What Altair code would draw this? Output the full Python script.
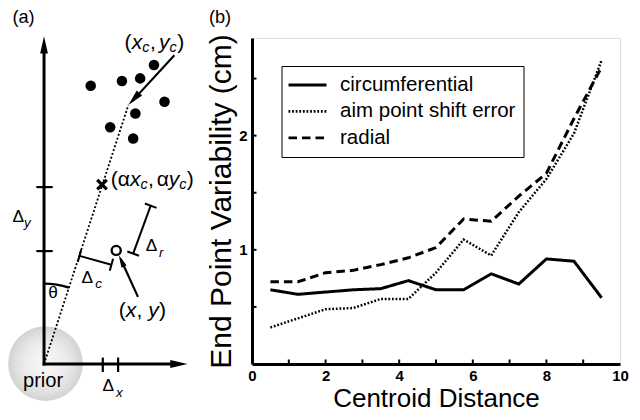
import altair as alt
import numpy as np
import pandas as pd

# ---------------- panel (b) data ----------------
centroid_distance = [0.5, 1.25, 2.0, 2.75, 3.5, 4.25, 5.0, 5.75, 6.5, 7.25, 8.0, 8.75, 9.5]
circumferential = [0.65, 0.61, 0.63, 0.65, 0.66, 0.73, 0.65, 0.65, 0.79, 0.70, 0.92, 0.90, 0.58]
aim_point_shift_error = [0.32, 0.40, 0.48, 0.49, 0.57, 0.57, 0.80, 1.09, 0.95, 1.33, 1.62, 2.02, 2.66]
radial = [0.72, 0.72, 0.80, 0.82, 0.87, 0.93, 1.02, 1.27, 1.25, 1.47, 1.67, 2.15, 2.60]
series_names = ["circumferential", "aim point shift error", "radial"]
series_widths = [3.0, 2.5, 3.0]
x_label_values = [0, 2, 4, 6, 8, 10]
y_label_values = [1, 2]
x_minor_ticks = [1, 2, 3, 4, 5, 6, 7, 8, 9]
y_minor_ticks = [0.5, 1.0, 1.5, 2.0, 2.5]

# ---------------- panel (a) schematic geometry (drawing units, origin = prior) ----------------
axis_tip = (149.7, 341.7)            # x-arrow tip x, y-arrow tip y
aim_end = (88.0, 270.0)              # (x_c, y_c)
scaled_aim = (60.5, 187.0)           # (alpha x_c, alpha y_c)
endpoint = (75.3, 118.4)             # (x, y)
dots_x = [48.7, 81.3, 100.3, 114.7, 125.7, 95.3, 69.0, 93.0]
dots_y = [290.0, 295.0, 297.7, 311.7, 273.4, 261.0, 246.7, 235.0]
y_axis_ticks = [117.7, 184.4]
x_axis_ticks = [61.3, 77.3]
dc_seg = [(37.0, 112.7), (70.3, 103.4)]
dr_seg = [(93.0, 115.0), (111.3, 165.0)]
arrow_xc_tail = (136.0, 321.7)
arrow_xy_tail = (98.0, 70.0)
arrow_xy_tip = (78.0, 113.4)

label_text = ["(a)", "(b)",
              "(", "x", "c", ",", "y", "c", ")",
              "(", "α", "x", "c", ",", "α", "y", "c", ")",
              "Δ", "y", "Δ", "c", "Δ", "r", "Δ", "x",
              "(", "x", ",", "y", ")",
              "θ", "prior"]
label_x = [-33, 172,
           84, 91.5, 102.5, 110.5, 120, 131, 139,
           69.7, 77, 89.7, 100.7, 108.5, 117.5, 130.2, 141.2, 149,
           -33, -21, 39, 53.5, 106, 120, 61, 75,
           78, 85.3, 96.5, 108.7, 120,
           4.5, -22]
label_y = [355.2, 355.2,
           328.7, 328.7, 325.2, 328.7, 328.7, 325.2, 328.7,
           185.7, 185.7, 185.7, 182.2, 185.7, 185.7, 185.7, 182.2, 185.7,
           147.7, 142.7, 84.7, 79.7, 117.7, 111.7, -28.3, -34.3,
           48.7, 48.7, 48.7, 48.7, 48.7,
           68.7, -24.3]
label_size = [19, 19,
              22, 22, 15, 22, 22, 15, 22,
              22, 22, 22, 15, 22, 22, 22, 15, 22,
              18, 14, 18, 14, 18, 14, 18, 14,
              22, 22, 22, 22, 22,
              18, 21]
label_italic = [False, False,
                False, True, True, False, True, True, False,
                False, False, True, True, False, False, True, True, False,
                False, True, False, True, False, True, False, True,
                False, True, False, True, False,
                False, False]

# ---------------- layout ----------------
W, H = 368, 326
S = W / 384.0                         # pixels per drawing unit
FONT = "Liberation Sans"

AX = alt.Scale(domain=[217, 601], nice=False, zero=False)
AY = alt.Scale(domain=[0, 339.8], nice=False, zero=False)


def ax(f):
    return alt.X(f, type="quantitative", scale=AX, axis=None)


def ay(f):
    return alt.Y(f, type="quantitative", scale=AY, axis=None)


# segments
segs = []
segs.append((0, -1.5, 0, axis_tip[1] - 12, 3.0))
segs.append((-1.5, 0, axis_tip[0] - 12, 0, 3.0))
for t in y_axis_ticks:
    segs.append((-8, t, 9, t, 2.2))
for t in x_axis_ticks:
    segs.append((t, -8.3, t, 6.7, 2.2))
segs.append((arrow_xc_tail[0], arrow_xc_tail[1], aim_end[0] + 4, aim_end[1] + 4, 2.2))
segs.append((arrow_xy_tail[0], arrow_xy_tail[1], arrow_xy_tip[0] + 2, arrow_xy_tip[1] - 4, 2.2))
for (p1, p2) in (dc_seg, dr_seg):
    p1 = np.array(p1); p2 = np.array(p2)
    d = (p2 - p1) / np.linalg.norm(p2 - p1)
    n = np.array([-d[1], d[0]])
    segs.append((p1[0], p1[1], p2[0], p2[1], 2.0))
    for p in (p1, p2):
        a = p + n * 6.5; b = p - n * 6.5
        segs.append((a[0], a[1], b[0], b[1], 2.0))
seg_df = pd.DataFrame(segs, columns=["x", "y", "x2", "y2", "w"])

# arrowheads
heads = []
for tail, tip, L in [((0, 0), (0, axis_tip[1]), 18), ((0, 0), (axis_tip[0], 0), 18),
                     (arrow_xc_tail, aim_end, 17), (arrow_xy_tail, arrow_xy_tip, 13)]:
    tail = np.array(tail, float); tip = np.array(tip, float)
    d = (tip - tail) / np.linalg.norm(tip - tail)
    c = tip - d * L / 2
    ang = np.degrees(np.arctan2(d[0], d[1])) % 360
    heads.append((c[0], c[1], ang, (L * S) ** 2))
head_df = pd.DataFrame(heads, columns=["x", "y", "ang", "sz"])
ARROW = "M0,-1L0.45,1L-0.45,1Z"

theta_line = float(np.arctan2(aim_end[0], aim_end[1]))

prior = alt.Chart(pd.DataFrame({"x": [1.5], "y": [0.5]})).mark_point(
    shape="circle", filled=True, size=(78 * S) ** 2, strokeWidth=0, opacity=1,
    fill={"gradient": "radial",
          "stops": [{"offset": 0, "color": "#f9f9f9"},
                    {"offset": 0.55, "color": "#ececec"},
                    {"offset": 0.85, "color": "#dcdcdc"},
                    {"offset": 1, "color": "#d2d2d2"}]},
).encode(x=ax("x"), y=ay("y"))

seg_layer = alt.Chart(seg_df).mark_rule(color="black").encode(
    x=ax("x"), y=ay("y"), x2=alt.X2("x2"), y2=alt.Y2("y2"),
    strokeWidth=alt.StrokeWidth("w:Q", scale=None),
)

dotted = alt.Chart(pd.DataFrame({"x": [0.0], "y": [0.0], "x2": [aim_end[0]], "y2": [aim_end[1]]})).mark_rule(
    color="black", strokeWidth=1.8, strokeDash=[2, 2]
).encode(x=ax("x"), y=ay("y"), x2=alt.X2("x2"), y2=alt.Y2("y2"))

arc = alt.Chart(pd.DataFrame({"x": [0.0], "y": [0.0]})).mark_arc(
    color="black", theta=0, theta2=theta_line, radius=85 * S, radius2=85 * S - 2.3
).encode(x=ax("x"), y=ay("y"))

head_layer = alt.Chart(head_df).mark_point(
    shape=ARROW, filled=True, color="black", strokeWidth=0, opacity=1
).encode(x=ax("x"), y=ay("y"), angle=alt.Angle("ang:Q", scale=None), size=alt.Size("sz:Q", scale=None))

dots = alt.Chart(pd.DataFrame({"x": dots_x, "y": dots_y})).mark_point(
    shape="circle", filled=True, color="black", size=(11 * S) ** 2, opacity=1
).encode(x=ax("x"), y=ay("y"))

cross = alt.Chart(pd.DataFrame({"x": [scaled_aim[0]], "y": [scaled_aim[1]]})).mark_point(
    shape="M-1,-1L1,1M-1,1L1,-1", filled=False, color="black", strokeWidth=3.2,
    size=(10 * S) ** 2, opacity=1
).encode(x=ax("x"), y=ay("y"))

ring = alt.Chart(pd.DataFrame({"x": [endpoint[0]], "y": [endpoint[1]]})).mark_point(
    shape="circle", filled=False, color="black", strokeWidth=2.3, size=(9.5 * S) ** 2, opacity=1
).encode(x=ax("x"), y=ay("y"))

lab_df = pd.DataFrame({"x": label_x, "y": label_y, "txt": label_text,
                       "fs": [s * S for s in label_size], "it": label_italic})
txt_n = alt.Chart(lab_df[~lab_df["it"]]).mark_text(
    align="left", baseline="alphabetic", font=FONT, color="black"
).encode(x=ax("x"), y=ay("y"), text="txt:N", size=alt.Size("fs:Q", scale=None))
txt_i = alt.Chart(lab_df[lab_df["it"]]).mark_text(
    align="left", baseline="alphabetic", font=FONT, fontStyle="italic", color="black"
).encode(x=ax("x"), y=ay("y"), text="txt:N", size=alt.Size("fs:Q", scale=None))

panel_a = alt.layer(prior, seg_layer, dotted, arc, head_layer, dots, cross, ring, txt_n, txt_i)

# ---------------- panel (b) ----------------
rows = []
for name, w, vals in zip(series_names, series_widths, [circumferential, aim_point_shift_error, radial]):
    for d, v in zip(centroid_distance, vals):
        rows.append({"d": d, "v": v, "series": name, "w": w})
line_df = pd.DataFrame(rows)

BX = alt.Scale(domain=[0, 10], nice=False, zero=False)
BY = alt.Scale(domain=[0, 2.855], nice=False, zero=False)

x_axis = alt.Axis(orient="bottom", values=x_label_values, format="d", ticks=False, tickSize=0,
                  grid=False, labelFlush=False, labelFont=FONT, labelFontWeight="bold",
                  labelFontSize=15, labelColor="black", labelPadding=4, title="Centroid Distance",
                  titleFont=FONT, titleFontSize=26, titleFontWeight="normal", titleColor="black",
                  titlePadding=2, domainColor="black", domainWidth=3)
y_axis = alt.Axis(orient="left", values=y_label_values, format="d", ticks=False, tickSize=0,
                  grid=False, labelFont=FONT, labelFontWeight="bold", labelFontSize=15,
                  labelColor="black", labelPadding=5, title="End Point Variability (cm)",
                  titleFont=FONT, titleFontSize=30, titleFontWeight="normal", titleColor="black",
                  titlePadding=2, domainColor="black", domainWidth=3)

lines = alt.Chart(line_df).mark_line(color="black").encode(
    x=alt.X("d:Q", scale=BX, axis=x_axis),
    y=alt.Y("v:Q", scale=BY, axis=y_axis),
    strokeDash=alt.StrokeDash(
        "series:N", scale=alt.Scale(domain=series_names, range=[[1, 0], [1.8, 1.8], [8.5, 5]]),
        legend=alt.Legend(title=None, orient="none", legendX=29.5, legendY=28,
                          symbolType="M-2,0L2,0", symbolSize=361, symbolStrokeWidth=2.8,
                          symbolOffset=7, symbolStrokeColor="black", labelFont=FONT,
                          labelFontSize=20.5, labelColor="black", labelOffset=21.5,
                          labelLimit=0, rowPadding=4.4, padding=8, strokeColor="black")),
    strokeWidth=alt.StrokeWidth("w:Q", scale=None),
)

xt = alt.Chart(pd.DataFrame({"d": x_minor_ticks})).mark_rule(color="black", strokeWidth=2).encode(
    x=alt.X("d:Q", scale=BX), y=alt.value(H), y2=alt.value(H - 4.5))
yt = alt.Chart(pd.DataFrame({"v": y_minor_ticks})).mark_rule(color="black", strokeWidth=2).encode(
    y=alt.Y("v:Q", scale=BY), x=alt.value(0), x2=alt.value(4.5))

panel_b = alt.layer(xt, yt, lines)

chart = alt.layer(panel_a, panel_b).resolve_scale(
    x="independent", y="independent"
).properties(width=W, height=H, padding=0).configure_view(stroke=None).configure_axis(
    domainCap="square"
).configure_legend(strokeColor="black", strokeWidth=3.2).configure(font=FONT)

chart.save("out.html", embed_options={"renderer": "svg", "actions": False})
